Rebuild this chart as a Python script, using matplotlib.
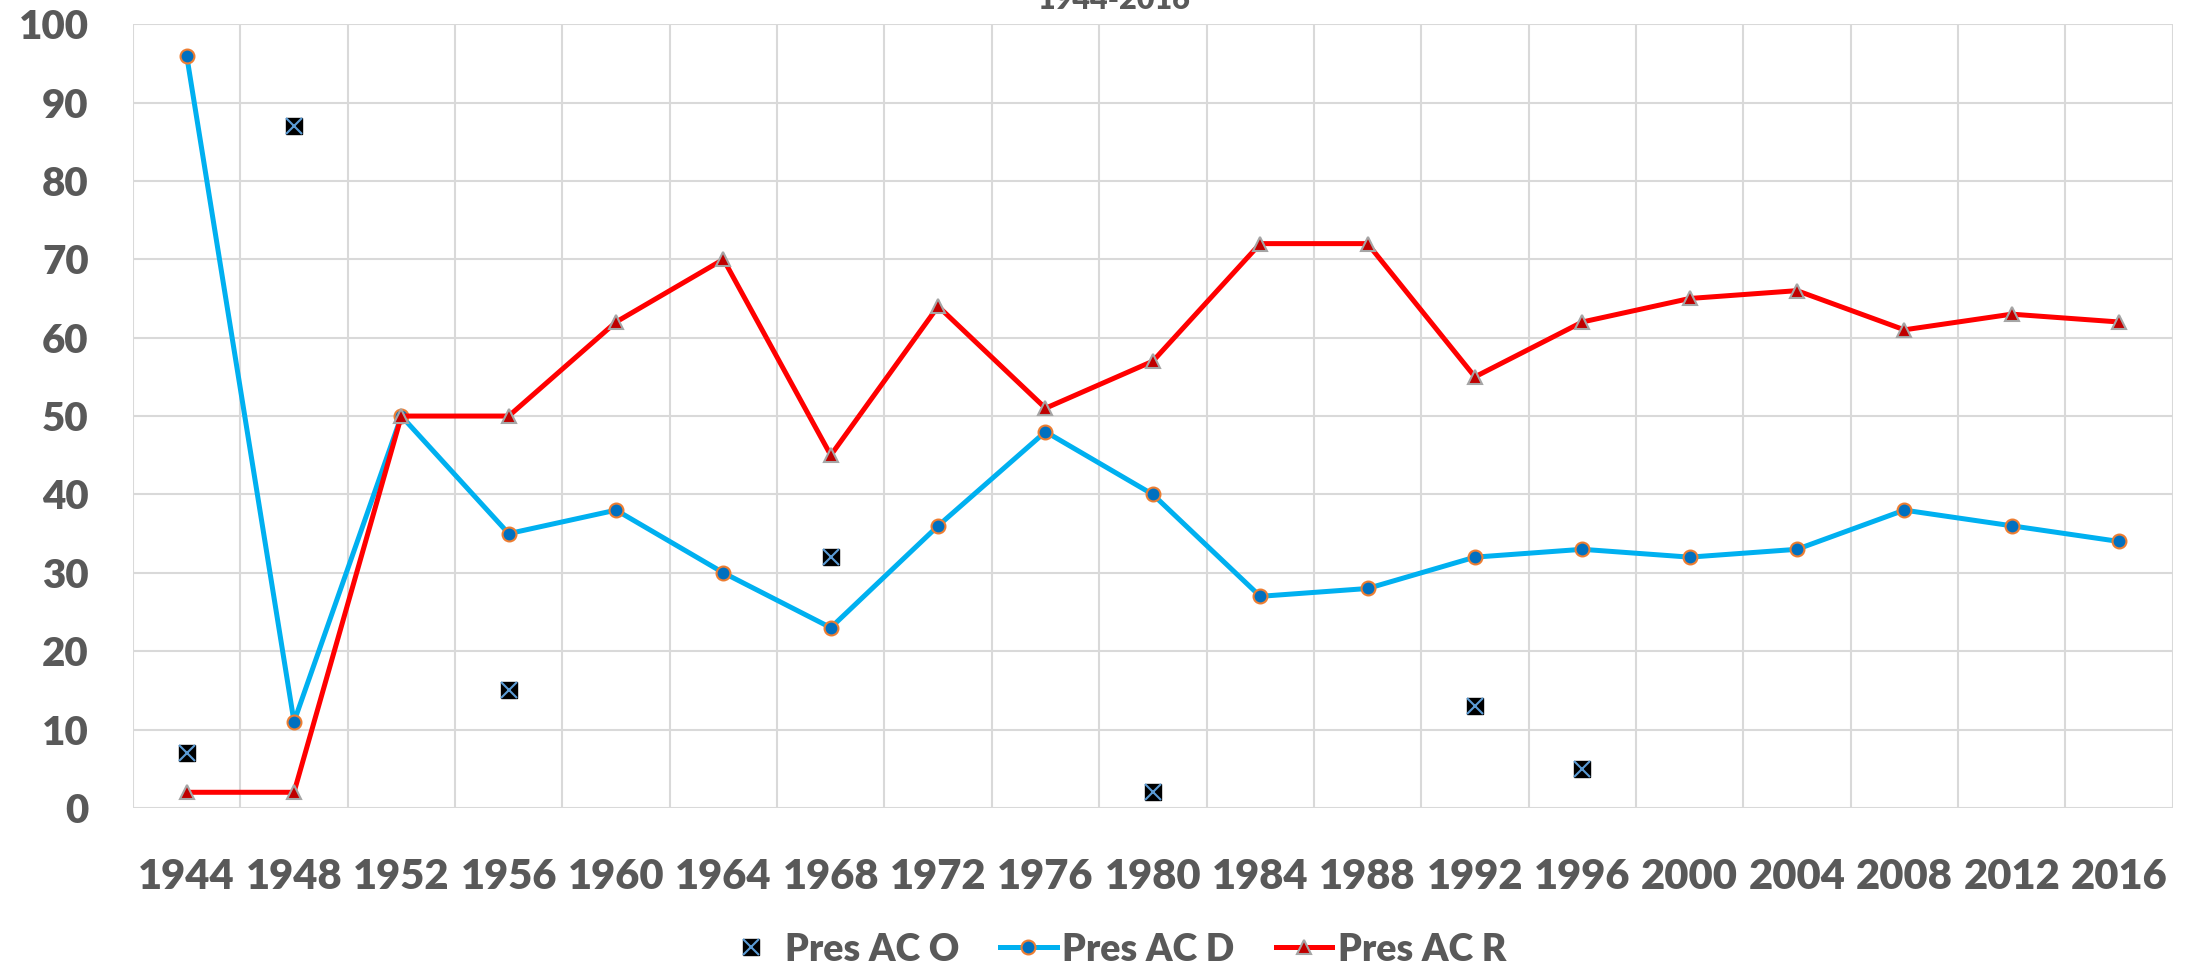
import matplotlib.pyplot as plt
import numpy as np
from matplotlib.legend_handler import HandlerTuple
from matplotlib.lines import Line2D

years = [1944, 1948, 1952, 1956, 1960, 1964, 1968, 1972, 1976, 1980,
         1984, 1988, 1992, 1996, 2000, 2004, 2008, 2012, 2016]
presD = [96, 11, 50, 35, 38, 30, 23, 36, 48, 40, 27, 28, 32, 33, 32, 33, 38, 36, 34]
presR = [2, 2, 50, 50, 62, 70, 45, 64, 51, 57, 72, 72, 55, 62, 65, 66, 61, 63, 62]
# other candidates, only some years
yearsO = [1944, 1948, 1956, 1968, 1980, 1992, 1996]
presO = [7, 87, 15, 32, 2, 13, 5]

plt.rcParams['font.family'] = ['Lato', 'DejaVu Sans']
plt.rcParams['font.weight'] = 'heavy'
gray = '#595959'

fig = plt.figure(figsize=(21.98, 9.66), dpi=100)
ax = fig.add_axes([0.0605, 0.1636, 0.928, 0.8114])

x = np.arange(len(years))
xO = [years.index(y) for y in yearsO]

ax.plot(x, presD, color='#00B0F0', lw=3.6, marker='o', ms=10,
        mfc='#0070C0', mec='#ED7D31', mew=1.5, zorder=3)
ax.plot(x, presR, color='#FF0000', lw=3.6, marker='^', ms=10,
        mfc='#C00000', mec='#A5A5A5', mew=1.5, zorder=3)
ax.plot(xO, presO, ls='none', marker='s', ms=12, color='black', zorder=4)
ax.plot(xO, presO, ls='none', marker='x', ms=12, mew=1.5, color='#5B9BD5', zorder=5)

ax.set_xlim(-0.5, len(years) - 0.5)
ax.set_ylim(0, 100)
ax.set_yticks(range(0, 101, 10))
ax.set_xticks(x)
ax.set_xticklabels([str(y) for y in years])
ax.set_xticks(np.arange(-0.5, len(years), 1), minor=True)
ax.grid(True, which='minor', axis='x', color='#D9D9D9', lw=1.5)
ax.grid(True, which='major', axis='y', color='#D9D9D9', lw=1.5)
ax.tick_params(which='both', length=0)
ax.tick_params(axis='y', labelsize=29, labelcolor=gray, pad=32)
ax.tick_params(axis='x', labelsize=30, labelcolor=gray, pad=36)
for s in ax.spines.values():
    s.set_visible(False)
ax.set_axisbelow(True)

fig.text(0.507, 1.0, '1944-2016', ha='center', va='center', fontsize=22, color=gray)

hO = (Line2D([], [], ls='none', marker='s', ms=12, color='black'),
      Line2D([], [], ls='none', marker='x', ms=12, mew=1.5, color='#5B9BD5'))
hD = Line2D([], [], color='#00B0F0', lw=3.6, marker='o', ms=10,
            mfc='#0070C0', mec='#ED7D31', mew=1.5)
hR = Line2D([], [], color='#FF0000', lw=3.6, marker='^', ms=10,
            mfc='#C00000', mec='#A5A5A5', mew=1.5)
fig.legend([hO, hD, hR], ['Pres AC O', 'Pres AC D', 'Pres AC R'],
           handler_map={tuple: HandlerTuple(ndivide=1)},
           loc='center', bbox_to_anchor=(0.507, 0.017), ncol=3, frameon=False,
           fontsize=27, labelcolor=gray, handlelength=1.5, columnspacing=1.1,
           handletextpad=0.15)

fig.savefig('out.png', dpi=100)
